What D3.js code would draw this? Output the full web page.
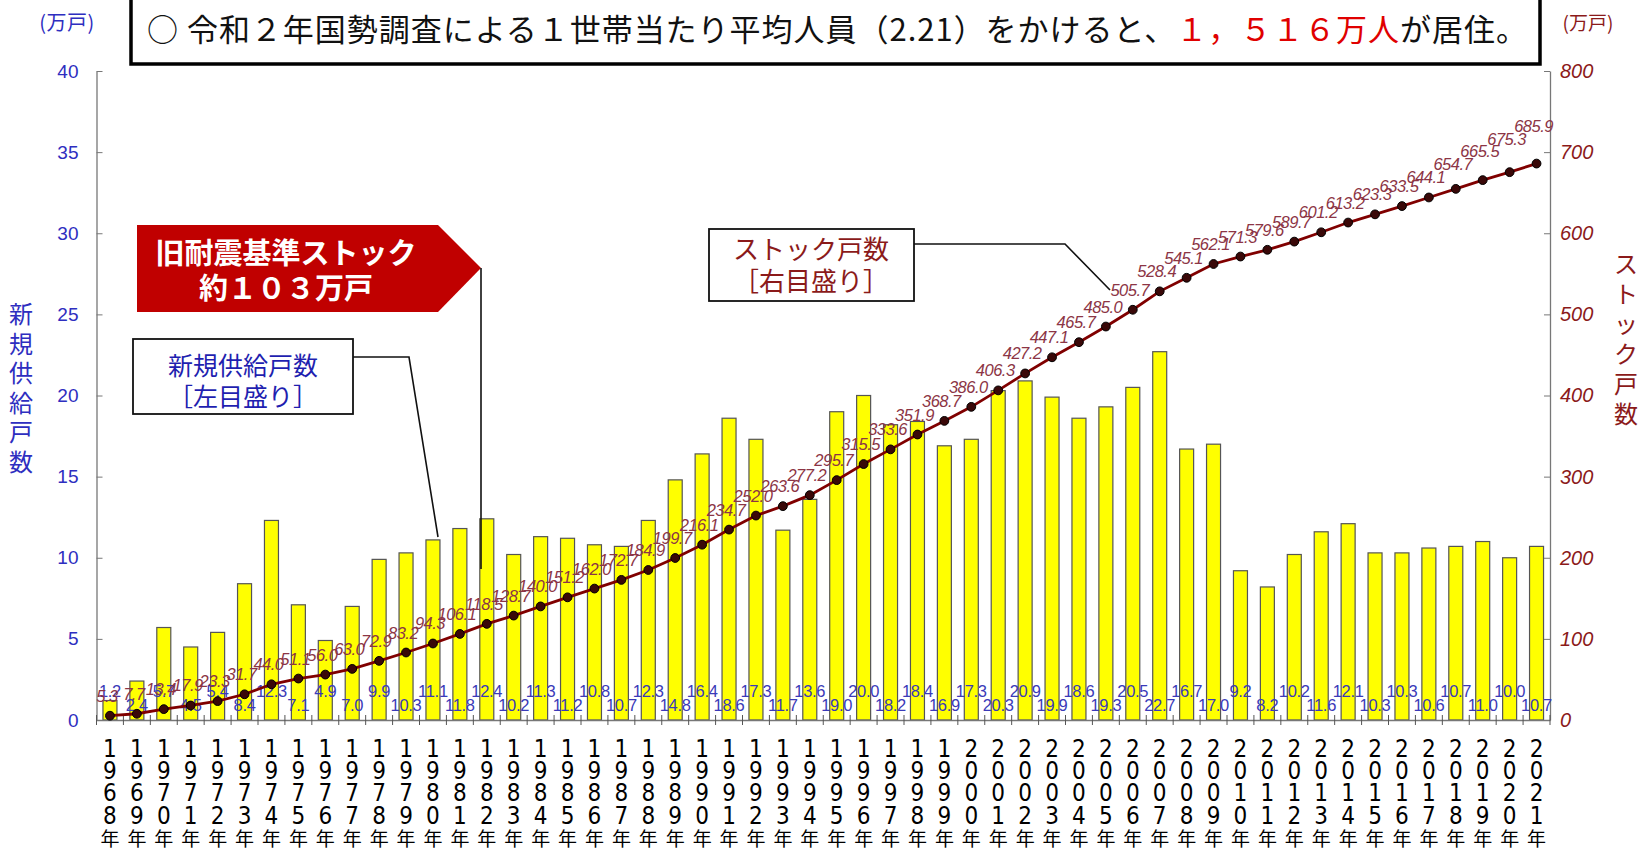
<!DOCTYPE html>
<html><head><meta charset="utf-8">
<script src="https://cdn.jsdelivr.net/npm/d3@7"></script>
<style>
body{margin:0;background:#fff}
svg{display:block;font-family:"Liberation Sans",Arial,sans-serif}
.jp{font-family:"Noto Sans CJK JP","Noto Sans",sans-serif}
</style>
</head><body>
<svg id="c" width="1644" height="853"></svg>
<script>
const years = ["1968","1969","1970","1971","1972","1973","1974","1975","1976","1977","1978","1979",
  "1980","1981","1982","1983","1984","1985","1986","1987","1988","1989","1990","1991","1992","1993",
  "1994","1995","1996","1997","1998","1999","2000","2001","2002","2003","2004","2005","2006","2007",
  "2008","2009","2010","2011","2012","2013","2014","2015","2016","2017","2018","2019","2020","2021"];
const supply = [1.2,2.4,5.7,4.5,5.4,8.4,12.3,7.1,4.9,7.0,9.9,10.3,11.1,11.8,12.4,10.2,11.3,11.2,10.8,10.7,
  12.3,14.8,16.4,18.6,17.3,11.7,13.6,19.0,20.0,18.2,18.4,16.9,17.3,20.3,20.9,19.9,18.6,19.3,20.5,22.7,
  16.7,17.0,9.2,8.2,10.2,11.6,12.1,10.3,10.3,10.6,10.7,11.0,10.0,10.7];
const stock = [5.3,7.7,13.4,17.9,23.3,31.7,44.0,51.1,56.0,63.0,72.9,83.2,94.3,106.1,118.5,128.7,140.0,151.2,
  162.0,172.7,184.9,199.7,216.1,234.7,252.0,263.6,277.2,295.7,315.5,333.6,351.9,368.7,386.0,406.3,427.2,
  447.1,465.7,485.0,505.7,528.4,545.1,562.1,571.3,579.6,589.7,601.2,613.2,623.3,633.5,644.1,654.7,665.5,675.3,685.9];
const leftTicks = [0,5,10,15,20,25,30,35,40];
const rightTicks = [0,100,200,300,400,500,600,700,800];
const unitLabel = "(万戸)";
const leftTitle = "新規供給戸数";
const rightTitle = "ストック戸数";
const yearSuffix = "年";
const headParts = [
  {t:"○ 令和２年国勢調査による１世帯当たり平均人員（2.21）をかけると、", red:false},
  {t:"１，５１６万人", red:true},
  {t:"が居住。", red:false}
];
const oldStockLines = ["旧耐震基準ストック","約１０３万戸"];
const supplyBoxLines = ["新規供給戸数","［左目盛り］"];
const stockBoxLines = ["ストック戸数","［右目盛り］"];

const svg = d3.select("#c");
const X0 = 96.5, X1 = 1550, YT = 71, YB = 720;
const BLUE = "#2e2ec0", DRED = "#8b1a1a", LBL = "#8c3545";

const x = d3.scaleBand().domain(years).range([X0, X1]).paddingInner(0.48).paddingOuter(0.24);
const yL = d3.scaleLinear().domain([0,40]).range([YB, YT]);
const yR = d3.scaleLinear().domain([0,800]).range([YB, YT]);
const cx = d => x(d) + x.bandwidth()/2;

// bars
svg.append("g").selectAll("rect").data(years).join("rect")
  .attr("x", d => x(d)).attr("width", x.bandwidth())
  .attr("y", (d,i) => yL(supply[i])).attr("height", (d,i) => YB - yL(supply[i]))
  .attr("fill", "#ffff00").attr("stroke", "#555").attr("stroke-width", 1.2);

// left axis
const gL = svg.append("g").attr("transform", `translate(${X0},0)`)
  .call(d3.axisLeft(yL).tickValues(leftTicks).tickSizeInner(-6).tickSizeOuter(0).tickPadding(18));
gL.select(".domain").attr("stroke", "#777").attr("stroke-width", 1.3);
gL.selectAll(".tick line").attr("stroke", "#777");
gL.selectAll(".tick text").attr("fill", BLUE).attr("font-size", 19).attr("font-family", "Liberation Sans, Arial");

// right axis
const gR = svg.append("g").attr("transform", `translate(${X1},0)`)
  .call(d3.axisRight(yR).tickValues(rightTicks).tickSizeInner(-6).tickSizeOuter(0).tickPadding(10));
gR.select(".domain").attr("stroke", "#777").attr("stroke-width", 1.3);
gR.selectAll(".tick line").attr("stroke", "#777");
gR.selectAll(".tick text").attr("fill", DRED).attr("font-size", 20).attr("font-style", "italic");

// bottom axis with stacked year labels
const gB = svg.append("g").attr("transform", `translate(0,${YB})`)
  .call(d3.axisBottom(x).tickSizeInner(0).tickSizeOuter(0).tickPadding(0));
gB.select(".domain").attr("stroke", "#777").attr("stroke-width", 1.3);
gB.selectAll(".tick text").each(function(d){
  const t = d3.select(this).text(null).attr("fill", "#000").attr("dy", null);
  const chars = d.split("").concat([yearSuffix]);
  t.selectAll("tspan").data(chars).join("tspan")
    .attr("x", 0).attr("y", (c,i) => 37 + i*22.2)
    .attr("font-size", (c,i) => i < 4 ? 24 : 19)
    .attr("font-family", (c,i) => i < 4 ? "'Liberation Sans Narrow','DejaVu Sans Condensed',sans-serif" : "'Noto Sans CJK JP',sans-serif")
    .text(c => c);
});
// category boundary ticks
const step = x.step();
gB.append("g").selectAll("line").data(years.concat(["end"])).join("line")
  .attr("x1", (d,i) => X0 + i*step).attr("x2", (d,i) => X0 + i*step)
  .attr("y1", -5).attr("y2", 5).attr("stroke", "#555");

// bar value labels
svg.append("g").selectAll("text").data(years).join("text")
  .attr("x", d => cx(d)).attr("y", (d,i) => i % 2 === 0 ? 697 : 711)
  .attr("text-anchor", "middle").attr("font-size", 16.5).attr("fill", "#3a3ab8")
  .attr("letter-spacing", -0.3)
  .text((d,i) => supply[i].toFixed(1));

// stock line
const line = d3.line().x((d,i) => cx(years[i])).y(d => yR(d));
svg.append("path").datum(stock).attr("d", line)
  .attr("fill", "none").attr("stroke", "#800000").attr("stroke-width", 2.8);
svg.append("g").selectAll("circle").data(stock).join("circle")
  .attr("cx", (d,i) => cx(years[i])).attr("cy", d => yR(d)).attr("r", 4.4)
  .attr("fill", "#3a0808").attr("stroke", "#000").attr("stroke-width", 1);
const lift = i => i >= 50 ? (i - 49) * 4.5 : 0;
svg.append("g").selectAll("text").data(stock).join("text")
  .attr("x", (d,i) => cx(years[i]) - 3).attr("y", (d,i) => yR(d) - 14 - lift(i))
  .attr("text-anchor", "middle").attr("font-size", 16.5).attr("font-style", "italic")
  .attr("fill", LBL).attr("letter-spacing", -0.5)
  .text(d => d.toFixed(1));

// header box
svg.append("rect").attr("x", 131).attr("y", -4).attr("width", 1409).attr("height", 68)
  .attr("fill", "#fff").attr("stroke", "#000").attr("stroke-width", 3.5);
const head = svg.append("text").attr("class", "jp").attr("x", 147).attr("y", 41)
  .attr("font-size", 31).attr("textLength", 1380).attr("lengthAdjust", "spacing");
head.selectAll("tspan").data(headParts).join("tspan")
  .attr("fill", d => d.red ? "#e00000" : "#111").text(d => d.t);

// unit labels
svg.append("text").attr("class", "jp").attr("x", 67).attr("y", 30).attr("text-anchor", "middle")
  .attr("font-size", 20).attr("letter-spacing", 0.5).attr("fill", BLUE).text(unitLabel);
svg.append("text").attr("class", "jp").attr("x", 1588).attr("y", 30).attr("text-anchor", "middle")
  .attr("font-size", 19).attr("fill", DRED).text(unitLabel);

// vertical axis titles
svg.append("g").selectAll("text").data(leftTitle.split("")).join("text").attr("class", "jp")
  .attr("x", 21).attr("y", (c,i) => 323 + i*29.5).attr("text-anchor", "middle")
  .attr("font-size", 24).attr("fill", BLUE).text(c => c);
svg.append("g").selectAll("text").data(rightTitle.split("")).join("text").attr("class", "jp")
  .attr("x", 1626).attr("y", (c,i) => 273 + i*30).attr("text-anchor", "middle")
  .attr("font-size", 24).attr("fill", DRED).text(c => c);

// red arrow annotation
svg.append("polygon").attr("points", "137,225 438,225 481,268 438,312 137,312").attr("fill", "#c00000");
svg.append("line").attr("x1", 481).attr("y1", 268).attr("x2", 481).attr("y2", 569)
  .attr("stroke", "#111").attr("stroke-width", 1.6);
svg.append("g").selectAll("text").data(oldStockLines).join("text").attr("class", "jp")
  .attr("x", 286).attr("y", (d,i) => 264 + i*35).attr("text-anchor", "middle")
  .attr("font-size", 29).attr("font-weight", 700).attr("fill", "#fff").text(d => d);

// supply box
svg.append("polyline").attr("points", "353,357 409,357 438,537").attr("fill", "none")
  .attr("stroke", "#111").attr("stroke-width", 1.6);
svg.append("rect").attr("x", 133).attr("y", 339).attr("width", 220).attr("height", 75)
  .attr("fill", "#fff").attr("stroke", "#111").attr("stroke-width", 1.8);
svg.append("g").selectAll("text").data(supplyBoxLines).join("text").attr("class", "jp")
  .attr("x", 243).attr("y", (d,i) => 375 + i*31).attr("text-anchor", "middle")
  .attr("font-size", 25).attr("fill", "#1f1fb0").text(d => d);

// stock box
svg.append("polyline").attr("points", "914,244 1065,244 1110,290").attr("fill", "none")
  .attr("stroke", "#111").attr("stroke-width", 1.6);
svg.append("rect").attr("x", 709).attr("y", 229).attr("width", 205).attr("height", 72)
  .attr("fill", "#fff").attr("stroke", "#111").attr("stroke-width", 1.8);
svg.append("g").selectAll("text").data(stockBoxLines).join("text").attr("class", "jp")
  .attr("x", 811).attr("y", (d,i) => 259 + i*32).attr("text-anchor", "middle")
  .attr("font-size", 26).attr("fill", DRED).text(d => d);
</script>
</body></html>
